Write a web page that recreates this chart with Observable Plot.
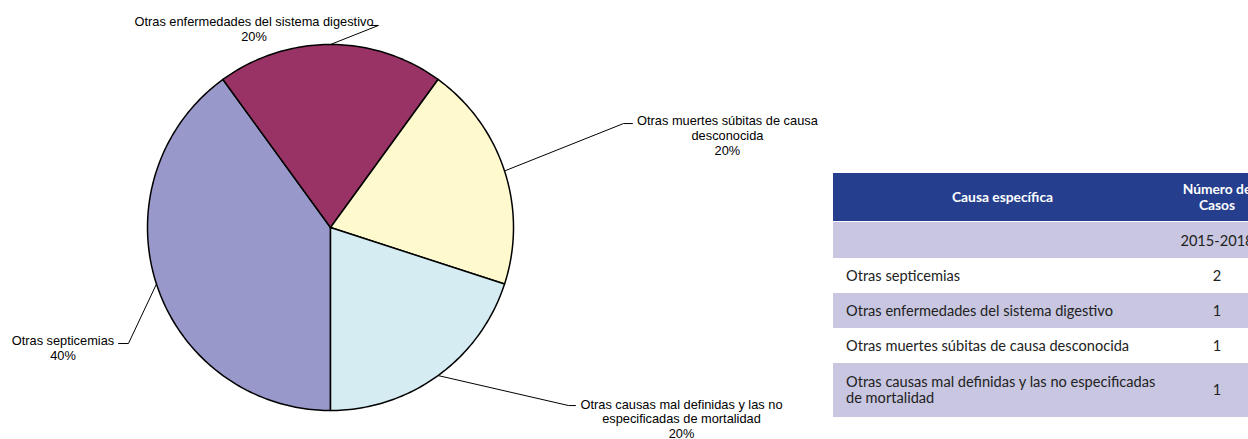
<!DOCTYPE html>
<html><head><meta charset="utf-8">
<script src="https://cdn.jsdelivr.net/npm/d3@7"></script>
<script src="https://cdn.jsdelivr.net/npm/@observablehq/plot@0.6"></script>
<style>
html,body{margin:0;padding:0;background:#fff;overflow:hidden;width:1248px;height:439px;}
#wrap{position:relative;width:1248px;height:439px;overflow:hidden;}
#chart{position:absolute;left:0;top:0;}
#tbl{position:absolute;left:833px;top:173px;}
table{border-collapse:collapse;table-layout:fixed;width:429px;font-family:Lato,"Open Sans",sans-serif;font-size:14.6px;color:#222;}
td,th{padding:0 13px;white-space:nowrap;}
th{background:#253F8E;color:#fff;font-weight:bold;font-size:13.8px;height:48px;line-height:1.15;text-align:center;}
tr.year td{background:#C8C6E0;height:36px;text-align:center;border-top:1px solid #fff;}
tr.row td{height:35px;}
tr.row.tall td{height:54px;line-height:1.1;}
tr.alt td{background:#C8C6E0;}
td.num{text-align:center;padding:0;}
</style>
</head><body>
<div id="wrap"><div id="chart"></div><div id="tbl"></div></div>
<script>
// ---- data ----
const causes = [
  "Otras septicemias",
  "Otras enfermedades del sistema digestivo",
  "Otras muertes súbitas de causa desconocida",
  "Otras causas mal definidas y las no especificadas de mortalidad"
];
const cases = [2, 1, 1, 1];
const pieLabels = [
  "Otras septicemias",
  "Otras enfermedades del sistema digestivo",
  "Otras muertes súbitas de causa\ndesconocida",
  "Otras causas mal definidas y las no\nespecificadas de mortalidad"
];
const tableLabels = [
  "Otras septicemias",
  "Otras enfermedades del sistema digestivo",
  "Otras muertes súbitas de causa desconocida",
  "Otras causas mal definidas y las no especificadas<br>de mortalidad"
];
const headers = ["Causa específica", "Número de<br>Casos"];
const period = "2015-2018";
const sliceColors = ["#9898CA", "#993366", "#FFF9CE", "#D5ECF3"];

// ---- layout (label placement in pie-radius units) ----
const leaderLayout = [
  {elbow: [-1.104, -0.634], end: [-1.158, -0.634], text: [-1.462, -0.656]},
  {elbow: [0.262, 1.104], end: [0.225, 1.104], text: [-0.418, 1.087]},
  {elbow: [1.601, 0.568], end: [1.650, 0.568], text: [2.169, 0.503]},
  {elbow: [1.301, -0.973], end: [1.339, -0.973], text: [1.918, -1.044]}
];

const total = d3.sum(cases);
const arcs = d3.pie().value(d => d).sort(null).startAngle(Math.PI).endAngle(3 * Math.PI)(cases);

const slicePts = [];
arcs.forEach((a, i) => {
  slicePts.push({name: causes[i], x: 0, y: 0});
  const n = Math.max(2, Math.ceil((a.endAngle - a.startAngle) / (Math.PI / 180)));
  for (let k = 0; k <= n; k++) {
    const t = a.startAngle + (a.endAngle - a.startAngle) * k / n;
    slicePts.push({name: causes[i], x: Math.sin(t), y: Math.cos(t)});
  }
});

const leaderPts = [];
const labelData = [];
arcs.forEach((a, i) => {
  const m = (a.startAngle + a.endAngle) / 2;
  const L = leaderLayout[i];
  leaderPts.push({name: causes[i], x: Math.sin(m), y: Math.cos(m)});
  leaderPts.push({name: causes[i], x: L.elbow[0], y: L.elbow[1]});
  leaderPts.push({name: causes[i], x: L.end[0], y: L.end[1]});
  labelData.push({x: L.text[0], y: L.text[1], text: pieLabels[i] + "\n" + Math.round(cases[i] / total * 100) + "%"});
});

const plot = Plot.plot({
  width: 830,
  height: 439,
  margin: 0,
  style: {background: "#fff", overflow: "visible"},
  x: {domain: [-1, 1], range: [147, 513], axis: null},
  y: {domain: [-1, 1], range: [410, 44], axis: null},
  color: {domain: causes, range: sliceColors},
  marks: [
    Plot.line(leaderPts, {x: "x", y: "y", z: "name", stroke: "#000", strokeWidth: 1}),
    Plot.line(slicePts, {x: "x", y: "y", z: "name", fill: "name", stroke: "#000", strokeWidth: 1.5, curve: "linear-closed", strokeLinejoin: "round"}),
    Plot.text(labelData, {x: "x", y: "y", text: "text", textAnchor: "middle", lineAnchor: "middle", lineHeight: 1.15, fontSize: 12.8, fontFamily: "Liberation Sans, Arial, sans-serif", fill: "#000"})
  ]
});
document.getElementById("chart").appendChild(plot);

// ---- table ----
let html = '<table><colgroup><col style="width:339px"><col style="width:90px"></colgroup>';
html += '<tr><th>' + headers[0] + '</th><th style="padding:0">' + headers[1] + '</th></tr>';
html += '<tr class="year"><td></td><td class="num">' + period + '</td></tr>';
causes.forEach((c, i) => {
  const cls = "row" + (i % 2 === 1 ? " alt" : "") + (i === 3 ? " tall" : "");
  html += '<tr class="' + cls + '"><td>' + tableLabels[i] + '</td><td class="num">' + cases[i] + '</td></tr>';
});
html += '</table>';
document.getElementById("tbl").innerHTML = html;
</script>
</body></html>
